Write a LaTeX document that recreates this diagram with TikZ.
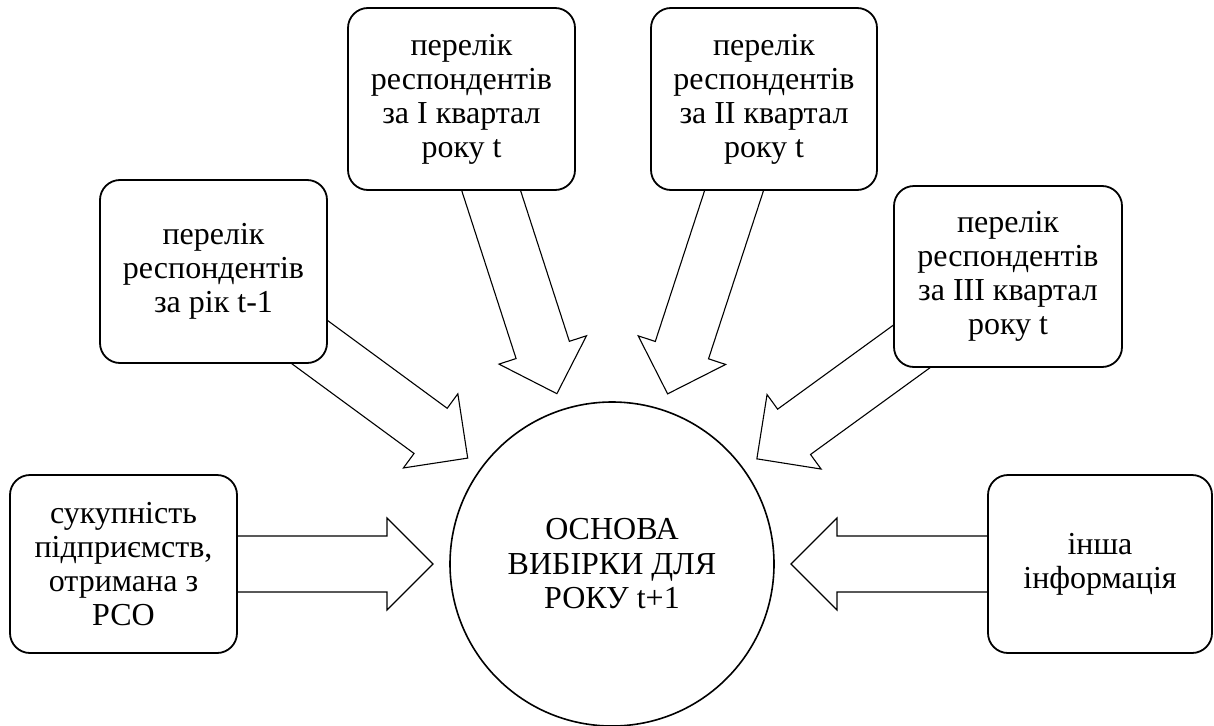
\documentclass[tikz,border=0pt]{standalone}
\usepackage{fontspec}
\setmainfont{Liberation Serif}
\usetikzlibrary{calc}
\tikzset{
  box/.style={draw=black, line width=1.8pt, rounded corners=20pt, fill=white,
    minimum width=227pt, minimum height=182pt, align=center, inner sep=2pt,
    font=\fontsize{32pt}{34pt}\selectfont},
  hub/.style={draw=black, line width=1.6pt, circle, fill=white, minimum size=324pt,
    inner sep=0pt, align=center, font=\fontsize{32pt}{34.5pt}\selectfont},
  blockarrow/.style={draw=black, line width=1.1pt, fill=white, line join=miter},
  anchorpt/.style={draw=none, inner sep=0pt, minimum size=0pt}
}
% #1 = source node, #2 = name prefix
\newcommand\hollowarrow[2]{%
  \coordinate (#2t) at ($(hub.center)!179pt!(#1.center)$);
  \coordinate (#2h) at ($(#2t)!46pt!(#1.center)$);
  \draw[blockarrow] ($(#1.center)!28pt!90:(#2t)$) -- ($(#2h)!28pt!90:(#2t)$)
    -- ($(#2h)!46pt!90:(#2t)$) -- (#2t) -- ($(#2h)!46pt!-90:(#2t)$)
    -- ($(#2h)!28pt!-90:(#2t)$) -- ($(#1.center)!28pt!-90:(#2t)$) -- cycle;
}
\begin{document}
\begin{tikzpicture}[x=1pt,y=-1pt]
\useasboundingbox (0,0) rectangle (1214,725);
\path (612,564) coordinate (hubc);
\node[anchorpt] (hub) at (hubc) {};
\path (461.5,99) coordinate (p1) (764,99) coordinate (p2)
      (213.5,271.5) coordinate (p3) (1008,276.5) coordinate (p4)
      (123.5,564) coordinate (p5) (1100,564) coordinate (p6);
\node[anchorpt] (s1) at (p1) {};
\node[anchorpt] (s2) at (p2) {};
\node[anchorpt] (s3) at (p3) {};
\node[anchorpt] (s4) at (p4) {};
\node[anchorpt] (s5) at (p5) {};
\node[anchorpt] (s6) at (p6) {};
% arrows
\hollowarrow{s1}{a1}
\hollowarrow{s2}{a2}
\hollowarrow{s3}{a3}
\hollowarrow{s4}{a4}
\hollowarrow{s5}{a5}
\hollowarrow{s6}{a6}
% boxes
\node[box] (b1) at (p1) {перелік\\респондентів\\за I квартал\\року t};
\node[box, minimum width=226pt] (b2) at (p2) {перелік\\респондентів\\за II квартал\\року t};
\node[box, minimum height=183pt] (b3) at (p3) {перелік\\респондентів\\за рік t-1};
\node[box, minimum width=228pt, minimum height=181pt] (b4) at (p4) {перелік\\респондентів\\за III квартал\\року t};
\node[box, minimum height=178pt] (b5) at (p5) {сукупність\\підприємств,\\отримана з\\РСО};
\node[box, minimum width=224pt, minimum height=178pt] (b6) at (p6) {інша\\інформація};
% hub
\node[hub] (hubdraw) at (hubc) {ОСНОВА\\ВИБІРКИ ДЛЯ\\РОКУ t+1};
\end{tikzpicture}
\end{document}
